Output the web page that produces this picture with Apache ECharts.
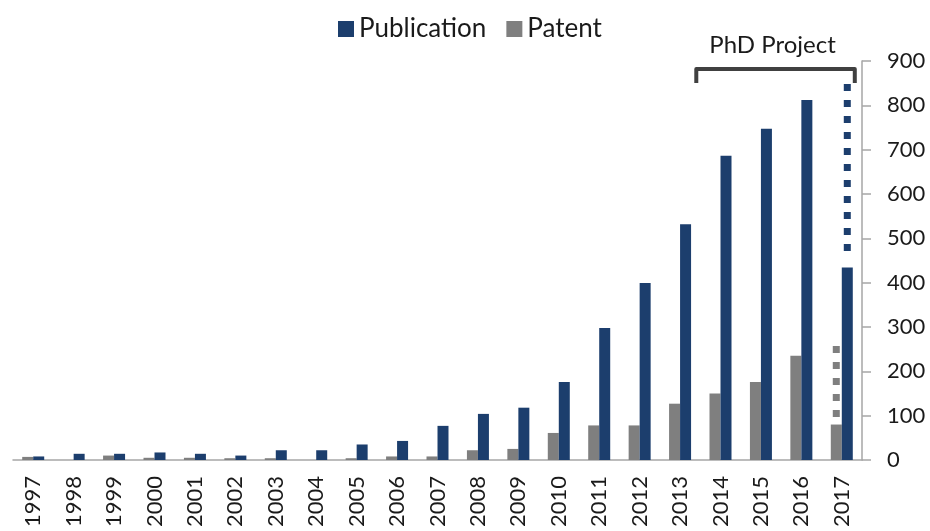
<!DOCTYPE html>
<html>
<head>
<meta charset="utf-8">
<script src="https://cdn.jsdelivr.net/npm/echarts@6/dist/echarts.min.js"></script>
<style>
  html, body { margin: 0; padding: 0; background: #fff; }
  #chart { width: 930px; height: 531px; }
</style>
</head>
<body>
<div id="chart"></div>
<script>
  // data
  const years = ['1997', '1998', '1999', '2000', '2001', '2002', '2003', '2004', '2005', '2006', '2007',
    '2008', '2009', '2010', '2011', '2012', '2013', '2014', '2015', '2016', '2017']
  const publications = [8, 14, 14, 17, 14, 10, 22, 22, 35, 43, 77, 104, 118, 176, 298, 399, 532, 686, 747, 812, 434]
  const patents = [7, 0, 10, 5, 5, 4, 4, 0, 4, 8, 8, 22, 25, 61, 78, 78, 127, 150, 176, 235, 80]
  // expected totals for the unfinished year (dotted part)
  const projectedYear = '2017'
  const publicationProjected = 848
  const patentProjected = 257
  const phdYears = ['2014', '2017']
  const yTicks = { min: 0, max: 900, interval: 100 }

  const blue = '#1c3e6d'
  const grey = '#7f7f7f'
  const axisGrey = '#a6a6a6'
  const font = 'Lato'
  const barWidth = 11

  const chart = echarts.init(document.getElementById('chart'))

  // dotted column above a bar, side = -1 for left bar (patent), +1 for right bar (publication)
  function dotted (side, color) {
    const dot = 7, gap = 9
    return function (params, api) {
      const idx = api.value(0)
      const lo = api.coord([idx, api.value(1)])
      const hi = api.coord([idx, api.value(2)])
      const x = lo[0] + side * barWidth / 2
      // only whole dots, leaving a small gap above the bar
      const n = Math.floor((lo[1] - 5 - hi[1] + gap) / (dot + gap))
      return {
        type: 'line',
        shape: { x1: x, y1: hi[1], x2: x, y2: hi[1] + n * (dot + gap) - gap },
        style: { stroke: color, lineWidth: 7, lineDash: [dot, gap], lineCap: 'butt' }
      }
    }
  }

  const option = {
    animation: false,
    textStyle: { fontFamily: font },
    legend: {
      data: ['Publication', 'Patent'],
      top: 11,
      left: 333,
      itemWidth: 16,
      itemHeight: 16,
      itemGap: 20,
      icon: 'rect',
      textStyle: { fontSize: 26, color: '#1a1a1a', fontFamily: font }
    },
    grid: { left: 13, right: 68, top: 61, bottom: 71 },
    xAxis: {
      type: 'category',
      data: years,
      axisLine: { lineStyle: { color: axisGrey, width: 1.5 } },
      axisTick: { length: 9, lineStyle: { color: axisGrey, width: 1.5 } },
      axisLabel: { rotate: 90, fontSize: 22, color: '#1a1a1a', margin: 16, fontFamily: font }
    },
    yAxis: {
      type: 'value',
      position: 'right',
      min: yTicks.min,
      max: yTicks.max,
      interval: yTicks.interval,
      splitLine: { show: false },
      axisLine: { show: true, lineStyle: { color: axisGrey, width: 1.5 } },
      axisTick: { show: true, length: 9, lineStyle: { color: axisGrey, width: 1.5 } },
      axisLabel: { fontSize: 22, color: '#1a1a1a', margin: 25, fontFamily: font }
    },
    series: [
      {
        name: 'Patent',
        type: 'bar',
        data: patents,
        barWidth: barWidth,
        barGap: '0%',
        itemStyle: { color: grey }
      },
      {
        name: 'Publication',
        type: 'bar',
        data: publications,
        barWidth: barWidth,
        barGap: '0%',
        itemStyle: { color: blue }
      },
      {
        type: 'custom',
        renderItem: dotted(-1, grey),
        encode: { x: 0, y: [1, 2] },
        data: [[projectedYear, patents[years.indexOf(projectedYear)], patentProjected]],
        silent: true
      },
      {
        type: 'custom',
        renderItem: dotted(1, blue),
        encode: { x: 0, y: [1, 2] },
        data: [[projectedYear, publications[years.indexOf(projectedYear)], publicationProjected]],
        silent: true
      }
    ]
  }
  chart.setOption(option)

  // PhD Project bracket, placed from the axis scales
  const catW = chart.convertToPixel({ xAxisIndex: 0 }, years[1]) - chart.convertToPixel({ xAxisIndex: 0 }, years[0])
  const x0 = chart.convertToPixel({ xAxisIndex: 0 }, phdYears[0]) - catW / 2 - 4
  const x1 = chart.convertToPixel({ xAxisIndex: 0 }, phdYears[1]) + barWidth + 2
  const yTop = chart.convertToPixel({ yAxisIndex: 0 }, yTicks.max) + 8
  chart.setOption({
    graphic: [
      {
        type: 'polyline',
        shape: { points: [[x0, yTop + 14], [x0, yTop], [x1, yTop], [x1, yTop + 14]] },
        style: { stroke: '#404040', lineWidth: 4, lineJoin: 'round', fill: null }
      },
      {
        type: 'text',
        x: (x0 + x1) / 2 - 3,
        y: yTop - 12,
        style: {
          text: 'PhD Project',
          fontSize: 24,
          fontFamily: font,
          fill: '#1a1a1a',
          align: 'center',
          verticalAlign: 'bottom'
        }
      }
    ]
  })
  window.addEventListener('resize', chart.resize)
</script>
</body>
</html>
